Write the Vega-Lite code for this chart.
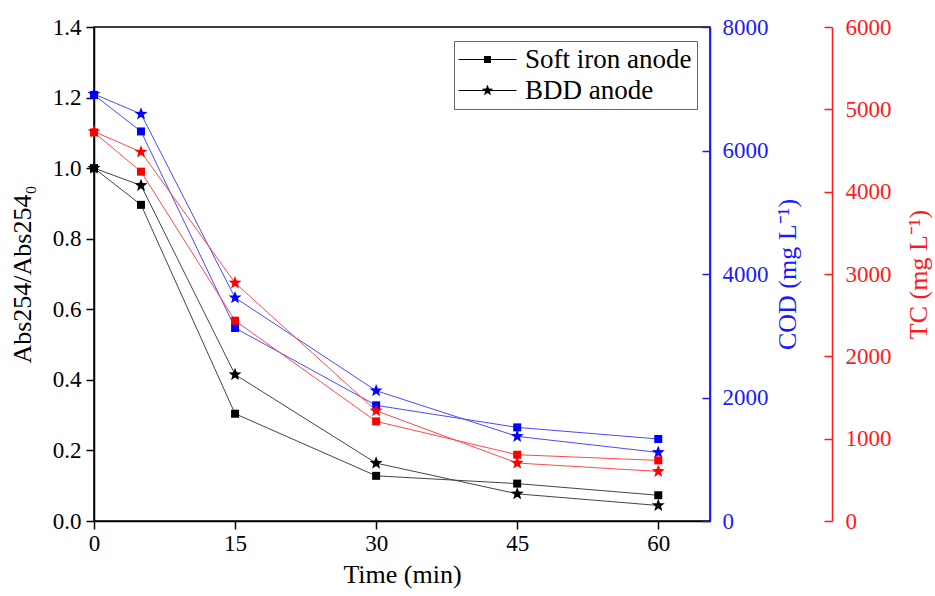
{
  "$schema": "https://vega.github.io/schema/vega-lite/v6.json",
  "width": 616,
  "height": 494,
  "autosize": {"type": "none"},
  "padding": {"left": 94, "top": 27, "right": 225, "bottom": 75},
  "config": {
    "font": "Liberation Serif",
    "view": {"stroke": "black", "strokeWidth": 1.5},
    "axis": {
      "grid": false,
      "labelFont": "Liberation Serif",
      "titleFont": "Liberation Serif",
      "labelFontSize": 23,
      "titleFontSize": 26,
      "titleFontWeight": "normal",
      "labelColor": "black",
      "titleColor": "black",
      "domainColor": "black",
      "tickColor": "black",
      "domainWidth": 1.5,
      "tickWidth": 1.5,
      "tickSize": 8,
      "labelFlush": false
    },
    "legend": {
      "labelFont": "Liberation Serif",
      "labelFontSize": 27,
      "labelColor": "black",
      "labelLimit": 0
    }
  },
  "data": {
    "values": [
      {"t": 0, "anode": "Soft iron anode", "measure": "Abs", "value": 1.0},
      {"t": 5, "anode": "Soft iron anode", "measure": "Abs", "value": 0.896},
      {"t": 15, "anode": "Soft iron anode", "measure": "Abs", "value": 0.304},
      {"t": 30, "anode": "Soft iron anode", "measure": "Abs", "value": 0.128},
      {"t": 45, "anode": "Soft iron anode", "measure": "Abs", "value": 0.106},
      {"t": 60, "anode": "Soft iron anode", "measure": "Abs", "value": 0.073},
      {"t": 0, "anode": "BDD anode", "measure": "Abs", "value": 1.0},
      {"t": 5, "anode": "BDD anode", "measure": "Abs", "value": 0.951},
      {"t": 15, "anode": "BDD anode", "measure": "Abs", "value": 0.415},
      {"t": 30, "anode": "BDD anode", "measure": "Abs", "value": 0.164},
      {"t": 45, "anode": "BDD anode", "measure": "Abs", "value": 0.077},
      {"t": 60, "anode": "BDD anode", "measure": "Abs", "value": 0.044},
      {"t": 0, "anode": "Soft iron anode", "measure": "COD", "value": 6900},
      {"t": 5, "anode": "Soft iron anode", "measure": "COD", "value": 6309},
      {"t": 15, "anode": "Soft iron anode", "measure": "COD", "value": 3126},
      {"t": 30, "anode": "Soft iron anode", "measure": "COD", "value": 1873},
      {"t": 45, "anode": "Soft iron anode", "measure": "COD", "value": 1516},
      {"t": 60, "anode": "Soft iron anode", "measure": "COD", "value": 1328},
      {"t": 0, "anode": "BDD anode", "measure": "COD", "value": 6914},
      {"t": 5, "anode": "BDD anode", "measure": "COD", "value": 6591},
      {"t": 15, "anode": "BDD anode", "measure": "COD", "value": 3616},
      {"t": 30, "anode": "BDD anode", "measure": "COD", "value": 2110},
      {"t": 45, "anode": "BDD anode", "measure": "COD", "value": 1370},
      {"t": 60, "anode": "BDD anode", "measure": "COD", "value": 1111},
      {"t": 0, "anode": "Soft iron anode", "measure": "TC", "value": 4720},
      {"t": 5, "anode": "Soft iron anode", "measure": "TC", "value": 4243},
      {"t": 15, "anode": "Soft iron anode", "measure": "TC", "value": 2433},
      {"t": 30, "anode": "Soft iron anode", "measure": "TC", "value": 1210},
      {"t": 45, "anode": "Soft iron anode", "measure": "TC", "value": 805},
      {"t": 60, "anode": "Soft iron anode", "measure": "TC", "value": 736},
      {"t": 0, "anode": "BDD anode", "measure": "TC", "value": 4731},
      {"t": 5, "anode": "BDD anode", "measure": "TC", "value": 4482},
      {"t": 15, "anode": "BDD anode", "measure": "TC", "value": 2892},
      {"t": 30, "anode": "BDD anode", "measure": "TC", "value": 1339},
      {"t": 45, "anode": "BDD anode", "measure": "TC", "value": 704},
      {"t": 60, "anode": "BDD anode", "measure": "TC", "value": 602}
    ]
  },
  "encoding": {
    "x": {
      "field": "t",
      "type": "quantitative",
      "scale": {"domain": [0, 65.5], "nice": false, "zero": false},
      "axis": {"values": [0, 15, 30, 45, 60], "title": "Time (min)", "labelPadding": 3, "titlePadding": 6}
    }
  },
  "layer": [
    {
      "transform": [{"filter": "datum.measure === 'Abs'"}],
      "encoding": {
        "y": {
          "field": "value",
          "type": "quantitative",
          "scale": {"domain": [0, 1.4], "nice": false},
          "axis": {"orient": "left", "values": [0, 0.2, 0.4, 0.6, 0.8, 1.0, 1.2, 1.4], "format": ".1f", "title": "Abs254/Abs254₀", "labelPadding": 5, "titlePadding": 17}
        }
      },
      "layer": [
        {"mark": {"type": "line", "color": "#444444", "strokeWidth": 1}, "encoding": {"detail": {"field": "anode"}}},
        {
          "mark": {"type": "point", "filled": true, "size": 256, "opacity": 1, "color": "black"},
          "encoding": {
            "shape": {
              "field": "anode",
              "type": "nominal",
              "scale": {"domain": ["Soft iron anode", "BDD anode"], "range": ["M-0.5,-0.5H0.5V0.5H-0.5Z", "M0,-0.85L0.21,-0.289L0.808,-0.263L0.339,0.111L0.5,0.688L0,0.357L-0.5,0.688L-0.339,0.111L-0.808,-0.263L-0.21,-0.289Z"]},
              "legend": null
            }
          }
        }
      ]
    },
    {
      "transform": [{"filter": "datum.measure === 'COD'"}],
      "encoding": {
        "y": {
          "field": "value",
          "type": "quantitative",
          "scale": {"domain": [0, 8000], "nice": false},
          "axis": {"orient": "right", "values": [0, 2000, 4000, 6000, 8000], "format": "d", "title": "COD (mg L⁻¹)", "titleAngle": 270, "titleBaseline": "top", "domainColor": "#1a1aff", "tickColor": "#1a1aff", "labelColor": "#1a1aff", "titleColor": "#1a1aff", "tickSize": -8, "labelPadding": 20, "titlePadding": 6}
        }
      },
      "layer": [
        {"mark": {"type": "line", "color": "#4a4aff", "strokeWidth": 1}, "encoding": {"detail": {"field": "anode"}}},
        {
          "mark": {"type": "point", "filled": true, "size": 256, "opacity": 1, "color": "#0000ff"},
          "encoding": {
            "shape": {
              "field": "anode",
              "type": "nominal",
              "scale": {"domain": ["Soft iron anode", "BDD anode"], "range": ["M-0.5,-0.5H0.5V0.5H-0.5Z", "M0,-0.85L0.21,-0.289L0.808,-0.263L0.339,0.111L0.5,0.688L0,0.357L-0.5,0.688L-0.339,0.111L-0.808,-0.263L-0.21,-0.289Z"]},
              "legend": null
            }
          }
        }
      ]
    },
    {
      "transform": [{"filter": "datum.measure === 'TC'"}],
      "encoding": {
        "y": {
          "field": "value",
          "type": "quantitative",
          "scale": {"domain": [0, 6000], "nice": false},
          "axis": {"orient": "right", "offset": 122, "values": [0, 1000, 2000, 3000, 4000, 5000, 6000], "format": "d", "title": "TC (mg L⁻¹)", "titleAngle": 270, "titleBaseline": "top", "domainColor": "#ff1a1a", "tickColor": "#ff1a1a", "labelColor": "#ff1a1a", "titleColor": "#ff1a1a", "tickSize": -8, "labelPadding": 21, "titlePadding": 14}
        }
      },
      "layer": [
        {"mark": {"type": "line", "color": "#ff4a4a", "strokeWidth": 1}, "encoding": {"detail": {"field": "anode"}}},
        {
          "mark": {"type": "point", "filled": true, "size": 256, "opacity": 1, "color": "#ff0000"},
          "encoding": {
            "shape": {
              "field": "anode",
              "type": "nominal",
              "scale": {"domain": ["Soft iron anode", "BDD anode"], "range": ["M-0.5,-0.5H0.5V0.5H-0.5Z", "M0,-0.85L0.21,-0.289L0.808,-0.263L0.339,0.111L0.5,0.688L0,0.357L-0.5,0.688L-0.339,0.111L-0.808,-0.263L-0.21,-0.289Z"]},
              "legend": null
            }
          }
        }
      ]
    },
    {
      "transform": [{"filter": "datum.measure === 'Abs'"}],
      "mark": {"type": "point", "filled": true, "size": 400, "opacity": 0, "color": "black"},
      "encoding": {
        "y": {"field": "value", "type": "quantitative", "scale": {"domain": [0, 1.4], "nice": false}, "axis": null},
        "shape": {
          "field": "anode",
          "type": "nominal",
          "scale": {"domain": ["Soft iron anode", "BDD anode"], "range": ["M-2.9,-0.05H2.9V0.05H-2.9ZM-0.35,-0.35H0.35V0.35H-0.35Z", "M-2.9,-0.05H2.9V0.05H-2.9ZM0,-0.6L0.148,-0.204L0.571,-0.185L0.239,0.078L0.353,0.485L0,0.252L-0.353,0.485L-0.239,0.078L-0.571,-0.185L-0.148,-0.204Z"]},
          "legend": {
            "title": null,
            "orient": "none",
            "legendX": 360,
            "legendY": 14,
            "symbolSize": 400,
            "symbolOffset": 15,
            "symbolFillColor": "black",
            "symbolOpacity": 1,
            "labelFont": "Liberation Serif",
            "labelFontSize": 27,
            "labelColor": "black",
            "labelLimit": 0,
            "labelOffset": 24,
            "rowPadding": 3,
            "padding": 5,
            "strokeColor": "#666666",
            "fillColor": "white"
          }
        }
      }
    }
  ],
  "resolve": {
    "scale": {"y": "independent", "shape": "independent"},
    "axis": {"y": "independent"},
    "legend": {"shape": "independent"}
  }
}
